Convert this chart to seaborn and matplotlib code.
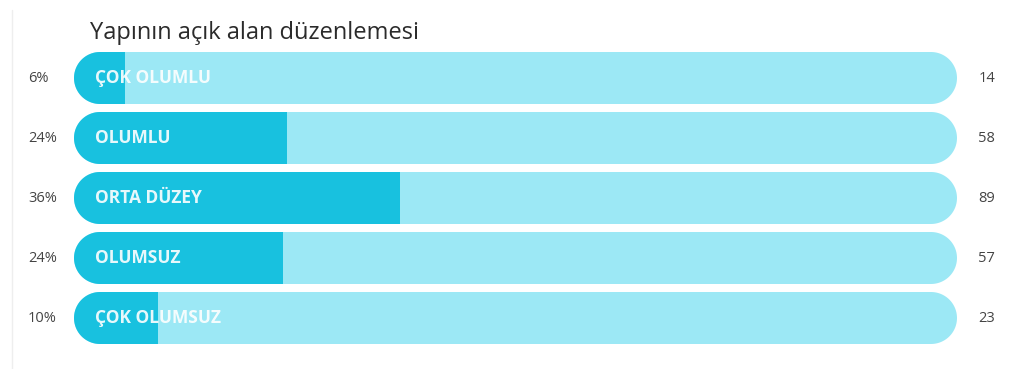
import numpy as np
import seaborn as sns
import pandas as pd
import matplotlib.pyplot as plt
from matplotlib.patches import Polygon
from matplotlib.transforms import IdentityTransform, blended_transform_factory
from matplotlib.lines import Line2D

# chart data
title = 'Yapının açık alan düzenlemesi'
categories = ['ÇOK OLUMLU', 'OLUMLU', 'ORTA DÜZEY', 'OLUMSUZ', 'ÇOK OLUMSUZ']
percents = [6, 24, 36, 24, 10]
counts = [14, 58, 89, 57, 23]

df = pd.DataFrame({'kategori': categories, 'yuzde': percents, 'sayi': counts})
df['pay'] = df['sayi'] / df['sayi'].sum()
df['toplam'] = 1.0

light = '#9CE8F5'
dark = '#18C1DF'

sns.set_style('white')
plt.rcParams['font.family'] = ['Open Sans', 'DejaVu Sans']

fig = plt.figure(figsize=(10.14, 3.69), dpi=100)
ax = fig.add_axes([74 / 1014, 21 / 369, 883 / 1014, 300 / 369])

# background bars (full) and filled share
sns.barplot(data=df, x='toplam', y='kategori', orient='h', color=light,
            saturation=1, width=52 / 60, linewidth=0, ax=ax)
sns.barplot(data=df, x='pay', y='kategori', orient='h', color=dark,
            saturation=1, width=52 / 60, linewidth=0, ax=ax)

ax.set_xlim(0, 1)
ax.set_ylim(4.5, -0.5)
ax.set_xlabel('')
ax.set_ylabel('')
ax.set_xticks([])
ax.set_yticks([])
sns.despine(ax=ax, left=True, bottom=True)


def stadium(left, bottom, right, top):
    # pill shape in pixel coordinates, used as a clip path
    r = (top - bottom) / 2
    cy = bottom + r
    t = np.linspace(-np.pi / 2, np.pi / 2, 40)
    rx = right - r + r * np.cos(t)
    ry = cy + r * np.sin(t)
    lx = left + r - r * np.cos(t)
    ly = cy - r * np.sin(t)
    pts = np.column_stack([np.concatenate([rx, lx]), np.concatenate([ry, ly])])
    return Polygon(pts, closed=True, transform=IdentityTransform())


n = len(categories)
for i in range(n):
    bg = ax.patches[i]
    fill = ax.patches[i + n]
    (x0, y0), (x1, y1) = ax.transData.transform(
        [(bg.get_x(), bg.get_y()), (bg.get_x() + bg.get_width(), bg.get_y() + bg.get_height())])
    clip = stadium(min(x0, x1), min(y0, y1), max(x0, x1), max(y0, y1))
    bg.set_clip_path(clip)
    fill.set_clip_path(clip)

trans = blended_transform_factory(ax.transAxes, ax.transData)
for i, row in df.iterrows():
    ax.text(-0.052, i, f"{row['yuzde']}%", transform=trans, ha='left', va='center',
            fontsize=10.5, color='#444444', clip_on=False)
    ax.text(1.024, i, f"{row['sayi']}", transform=trans, ha='left', va='center',
            fontsize=10.5, color='#444444', clip_on=False)
    ax.text(0.024, i, row['kategori'], transform=trans, ha='left', va='center',
            fontsize=12.5, fontweight='bold', color='white', alpha=0.9)

fig.text(90 / 1014, 1 - 33 / 369, title, ha='left', va='center',
         fontsize=17, fontweight='medium', color='#2b2b2b')

# faint frame line on the left
fig.add_artist(Line2D([12 / 1014, 12 / 1014], [0, 1 - 10 / 369],
                      transform=fig.transFigure, color='#eeeeee', lw=1))

fig.savefig('out.png', dpi=100)
